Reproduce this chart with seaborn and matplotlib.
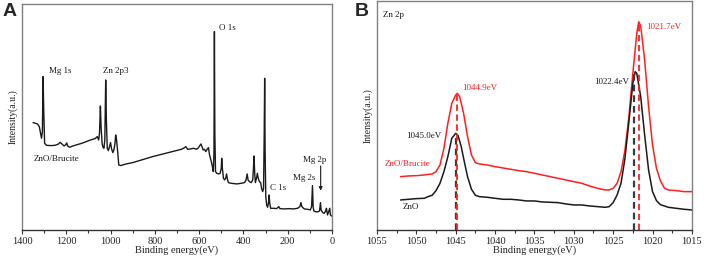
import numpy as np
import pandas as pd
import matplotlib
matplotlib.use("Agg")
import matplotlib.pyplot as plt
import seaborn as sns
from matplotlib.ticker import MultipleLocator

# Panel A: survey spectrum of ZnO/Brucite (binding energy eV, intensity a.u.)
survey_ev = [1350, 1340, 1330, 1322, 1316, 1312, 1308, 1305, 1302, 1298, 1290, 1270, 1250,
             1235, 1228, 1220, 1210, 1202, 1198, 1194, 1185, 1170, 1150, 1130, 1110, 1090,
             1070, 1060, 1054, 1050, 1046, 1043, 1038, 1034, 1030, 1026, 1022, 1019, 1015,
             1010, 1005, 1000, 996, 990, 985, 980, 977, 973, 968, 963, 955, 930, 900, 870,
             840, 810, 780, 750, 720, 700, 680, 668, 660, 652, 640, 625, 612, 605, 598, 592,
             587, 582, 576, 570, 563, 558, 553, 545, 540, 536, 533, 531, 529, 526, 520, 512,
             505, 500, 498, 495, 490, 485, 480, 476, 473, 468, 455, 430, 410, 395, 388, 383,
             379, 373, 365, 358, 355, 352, 349, 346, 341, 337, 333, 328, 322, 318, 313, 309,
             306, 304, 302, 299, 295, 291, 287, 284, 281, 277, 265, 250, 240, 235, 215, 195,
             175, 155, 145, 140, 136, 125, 110, 98, 92, 88, 85, 82, 75, 65, 56, 52, 49, 42,
             35, 28, 25, 20, 15, 10, 7, 3, 1]
survey_int = [322, 320, 318, 310, 290, 275, 295, 460, 360, 260, 254, 253, 254,
              258, 263, 258, 252, 256, 261, 252, 248, 252, 256, 260, 265, 270,
              274, 280, 270, 290, 372, 310, 258, 248, 245, 270, 450, 330, 245,
              238, 250, 262, 245, 232, 240, 260, 285, 270, 235, 195, 193, 198, 202, 208,
              214, 220, 225, 230, 235, 238, 242, 246, 250, 242, 243, 245, 242, 245, 252, 258,
              250, 240, 242, 235, 243, 247, 225, 205, 190, 175, 230, 595, 290, 175, 170, 168,
              170, 185, 215, 185, 155, 150, 155, 168, 155, 142, 140, 138, 140, 142, 150, 168,
              150, 145, 142, 150, 180, 222, 170, 142, 155, 170, 155, 145, 142, 125, 115, 125,
              290, 455, 240, 100, 75, 68, 80, 105, 80, 65, 65, 64, 70, 64, 63, 64,
              63, 65, 70, 82, 70, 63, 62, 60, 70, 133, 70, 57, 55, 54, 57, 82, 60, 52,
              50, 58, 65, 45, 55, 65, 45, 42, 42]

# Panel B: Zn 2p high resolution spectra
zn_brucite_ev = [1052, 1051, 1050, 1049, 1048, 1047.5, 1047, 1046.5, 1046, 1045.5, 1045.0,
                 1044.8, 1044.5, 1044, 1043.5, 1043, 1042.5, 1042, 1041, 1040, 1039, 1038,
                 1037, 1036, 1035, 1034, 1033, 1032, 1031, 1030, 1029, 1028, 1027, 1026,
                 1025.5, 1025, 1024.5, 1024, 1023.5, 1023, 1022.5, 1022, 1021.75, 1021.5,
                 1021, 1020.5, 1020, 1019.5, 1019, 1018.5, 1018, 1017, 1016, 1015]
zn_brucite_int = [160, 162, 163, 165, 168, 175, 195, 245, 320, 380, 405,
                  410, 400, 350, 280, 225, 202, 198, 195, 190, 186, 182,
                  178, 175, 170, 165, 160, 155, 150, 145, 140, 132, 125, 120,
                  120, 125, 140, 175, 240, 340, 470, 590, 625, 612,
                  510, 370, 255, 185, 148, 126, 120, 118, 115, 115]
zno_ev = [1052, 1051, 1050, 1049, 1048.5, 1048, 1047.5, 1047, 1046.5, 1046, 1045.5, 1045.0,
          1044.7, 1044.3, 1044, 1043.5, 1043, 1042.5, 1042, 1041, 1040, 1039, 1038, 1037,
          1036, 1035, 1034, 1033, 1032, 1031, 1030, 1029, 1028, 1027, 1026, 1025.5, 1025,
          1024.5, 1024, 1023.5, 1023, 1022.5, 1022.2, 1022, 1021.5, 1021, 1020.5, 1020,
          1019.5, 1019, 1018, 1017, 1016, 1015]
zno_int = [90, 92, 94, 95, 100, 104, 118, 140, 175, 220, 275, 290,
           283, 250, 215, 160, 122, 104, 100, 98, 95, 92, 92, 90,
           87, 87, 84, 83, 82, 78, 75, 75, 72, 70, 68, 70, 82,
           105, 140, 215, 325, 440, 475, 470, 400, 285, 180, 115,
           88, 76, 68, 65, 62, 60]

peak_ev_zno = [1045.0, 1022.4]
peak_int_zno = [290, 475]
peak_ev_brucite = [1044.9, 1021.7]
peak_int_brucite = [410, 625]

red = "#ff1f1f"
dark = "#1a1a1a"
serif = ["Liberation Serif", "DejaVu Serif"]

sns.set_theme(style="white")
plt.rcParams["font.family"] = serif
plt.rcParams["xtick.direction"] = "out"

fig = plt.figure(figsize=(7.06, 2.64), dpi=100)
ax_a = fig.add_axes([0.0312, 0.129, 0.439, 0.856])
ax_b = fig.add_axes([0.534, 0.129, 0.446, 0.867])


def style_axes(ax):
    for side, sp in ax.spines.items():
        sp.set_color("#808080")
        sp.set_linewidth(1.0)
    ax.spines["bottom"].set_color("#333333")
    ax.set_yticks([])
    ax.tick_params(axis="x", which="major", bottom=True, length=3, width=0.8,
                   color="#333333", labelsize=7.5, pad=2, labelcolor="#222222")
    ax.tick_params(axis="x", which="minor", bottom=True, length=2, width=0.8, color="#333333")
    ax.set_ylabel("Intensity(a.u.)", fontsize=7, labelpad=3, color="#222222")
    ax.set_xlabel("Binding energy(eV)", fontsize=7.5, labelpad=0, color="#222222")


# ---- Panel A ----
df_a = pd.DataFrame({"ev": survey_ev, "intensity": survey_int})
sns.lineplot(data=df_a, x="ev", y="intensity", ax=ax_a, color=dark, lw=1.0,
             sort=False, estimator=None)
ax_a.set_xlim(1400, 0)
ax_a.set_ylim(0, 678)
ax_a.xaxis.set_major_locator(MultipleLocator(200))
ax_a.xaxis.set_minor_locator(MultipleLocator(100))
style_axes(ax_a)

ann = dict(fontsize=6.5, color=dark, va="center", ha="left")
ax_a.text(1278, 478, "Mg 1s", **ann)
ax_a.text(1035, 478, "Zn 2p3", **ann)
ax_a.text(509, 605, "O 1s", **ann)
ax_a.text(1346, 212, "ZnO/Brucite", **ann)
ax_a.text(280, 125, "C 1s", **ann)
ax_a.text(176, 155, "Mg 2s", **ann)
ax_a.text(130, 210, "Mg 2p", **ann)
ax_a.annotate("", xy=(51, 118), xytext=(51, 192),
              arrowprops=dict(arrowstyle="-|>", color=dark, lw=0.8,
                              mutation_scale=5, shrinkA=0, shrinkB=0))

# ---- Panel B ----
df_b = pd.concat([
    pd.DataFrame({"ev": zn_brucite_ev, "intensity": zn_brucite_int, "sample": "ZnO/Brucite"}),
    pd.DataFrame({"ev": zno_ev, "intensity": zno_int, "sample": "ZnO"}),
])
sns.lineplot(data=df_b, x="ev", y="intensity", hue="sample", ax=ax_b,
             palette={"ZnO/Brucite": red, "ZnO": dark}, lw=1.1, legend=False,
             sort=False, estimator=None)
for ev, top in zip(peak_ev_zno, peak_int_zno):
    ax_b.plot([ev, ev], [0, top], color="#3a3a3a", lw=1.6, ls=(0, (3, 1.8)))
for ev, top in zip(peak_ev_brucite, peak_int_brucite):
    ax_b.plot([ev, ev], [0, top], color=red, lw=1.3, ls=(0, (3.5, 2)))
ax_b.set_xlim(1055, 1015)
ax_b.set_ylim(0, 687)
ax_b.xaxis.set_major_locator(MultipleLocator(5))
ax_b.xaxis.set_minor_locator(MultipleLocator(2.5))
style_axes(ax_b)

ax_b.text(1054.3, 645, "Zn 2p", fontsize=6.5, color=dark, va="center", ha="left")
ax_b.text(1044.2, 425, "1044.9eV", fontsize=6.5, color=red, va="center", ha="left")
ax_b.text(1051.3, 282, "1045.0eV", fontsize=6.5, color=dark, va="center", ha="left")
ax_b.text(1027.45, 445, "1022.4eV", fontsize=6.5, color=dark, va="center", ha="left")
ax_b.text(1020.8, 608, "1021.7eV", fontsize=6.5, color=red, va="center", ha="left")
ax_b.text(1054.0, 198, "ZnO/Brucite", fontsize=6.5, color=red, va="center", ha="left")
ax_b.text(1051.8, 70, "ZnO", fontsize=6.5, color=dark, va="center", ha="left")

# panel letters
fig.text(0.003, 0.958, "A", fontsize=14, fontweight="bold", family=["Liberation Sans", "DejaVu Sans"],
         va="center", ha="left")
fig.text(0.503, 0.956, "B", fontsize=14, fontweight="bold", family=["Liberation Sans", "DejaVu Sans"],
         va="center", ha="left")

fig.savefig("out.png", dpi=100)
